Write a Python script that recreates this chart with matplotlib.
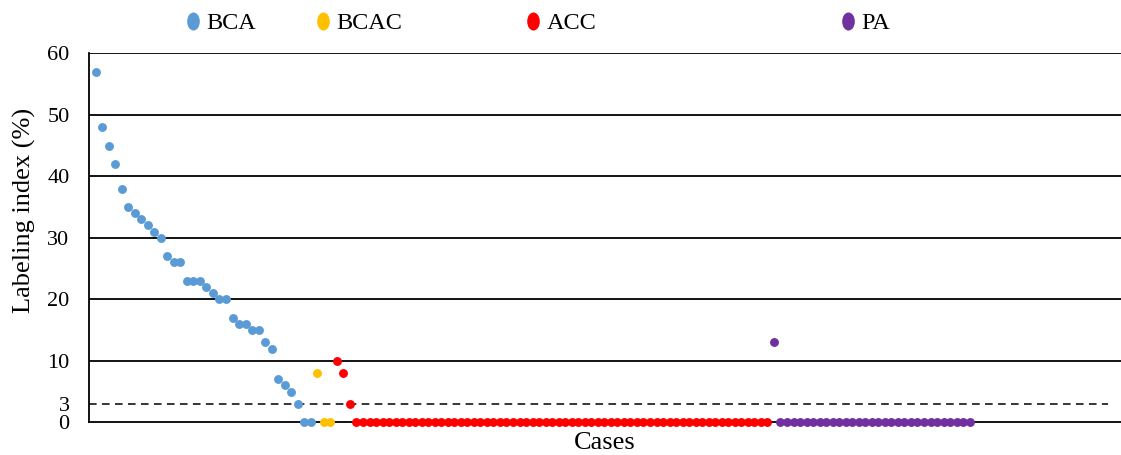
import numpy as np
import matplotlib
matplotlib.use("Agg")
import matplotlib.pyplot as plt
from matplotlib.path import Path
from matplotlib.transforms import Affine2D
from matplotlib.lines import Line2D

plt.rcParams['font.family'] = ['Liberation Serif', 'DejaVu Serif']

groups = ["BCA", "BCAC", "ACC", "PA"]
colors = {"BCA": "#5B9BD5", "BCAC": "#FFC000", "ACC": "#FF0000", "PA": "#7030A0"}

bca = [57, 48, 45, 42, 38, 35, 34, 33, 32, 31, 30, 27, 26, 26, 23, 23, 23, 22, 21,
       20, 20, 17, 16, 16, 15, 15, 13, 12, 7, 6, 5, 3, 0, 0]
bcac = [8, 0, 0]
acc = [10, 8, 3] + [0] * 64
pa = [13] + [0] * 30

yticks = [0, 3, 10, 20, 30, 40, 50, 60]
solid_grid = [10, 20, 30, 40, 50, 60]
cutoff = 3

series = {"BCA": bca, "BCAC": bcac, "ACC": acc, "PA": pa}

fig = plt.figure(figsize=(11.21, 4.55), dpi=100)
ax = fig.add_axes([89/1121, 32.7/455, 1 - 89/1121, (422.3-53.3)/455])

start = 0
for g in groups:
    vals = series[g]
    x = np.arange(start, start + len(vals))
    ax.plot(x, vals, 'o', color=colors[g], markersize=6.4, markeredgewidth=0,
            zorder=3, clip_on=False)
    start += len(vals)

for yv in solid_grid:
    ax.axhline(yv, color='black', lw=1.3, zorder=1)
ax.axhline(cutoff, xmax=(1108-89)/(1121-89), color='black', lw=1.1,
           ls=(0, (5, 3.5)), zorder=1)

ax.set_xlim(-1, 157.2)
ax.set_ylim(0, 60)
ax.set_yticks(yticks)
ax.set_yticklabels([str(t) for t in yticks], fontsize=16)
ax.tick_params(axis='y', length=0, pad=14)
ax.set_xticks([])
for s in ['top', 'right']:
    ax.spines[s].set_visible(False)
ax.spines['left'].set_linewidth(1.3)
ax.spines['bottom'].set_linewidth(1.3)
ax.set_ylabel("Labeling index (%)", fontsize=19)
ax.yaxis.set_label_coords(-0.051, 0.575)
ax.set_xlabel("Cases", fontsize=19, labelpad=7)

ell = Path.unit_circle().transformed(Affine2D().scale(0.7, 1.0))
legend_x = {"BCA": 186/1121, "BCAC": 316/1121, "ACC": 526/1121, "PA": 841/1121}
for g in groups:
    h = Line2D([], [], marker=ell, ls='none', color=colors[g], markersize=13,
               markeredgewidth=0)
    fig.legend([h], [g], loc='center left', bbox_to_anchor=(legend_x[g], 1 - 23/455),
               frameon=False, fontsize=17.5, handlelength=0.6, handletextpad=0.25,
               borderpad=0, borderaxespad=0)

fig.savefig("out.png", dpi=100)
